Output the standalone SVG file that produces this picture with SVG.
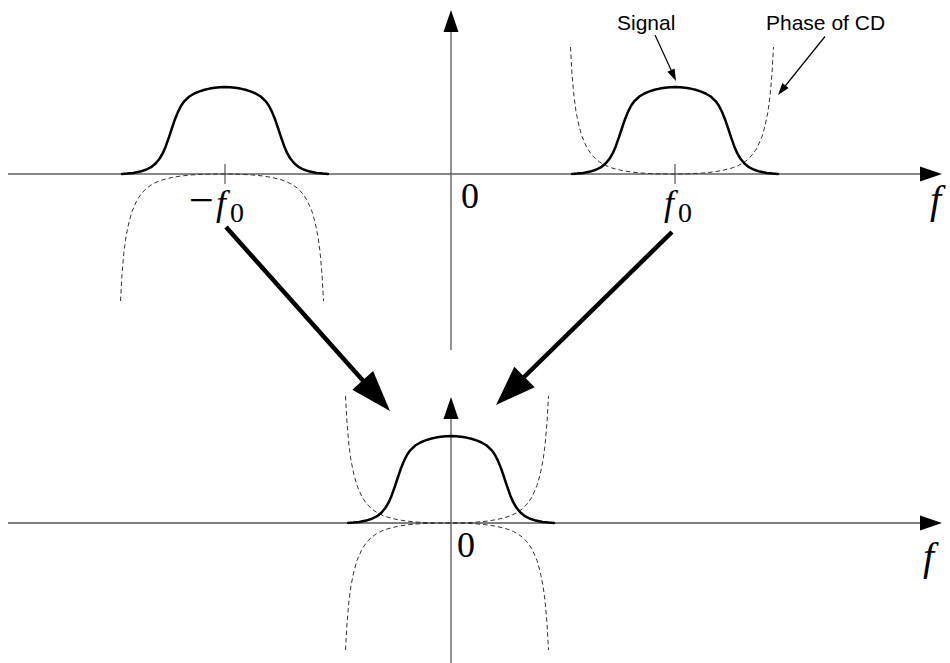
<svg xmlns="http://www.w3.org/2000/svg" xmlns:xlink="http://www.w3.org/1999/xlink" width="950" height="663" viewBox="0 0 950 663">
<style>
.axis{stroke:#111;stroke-width:1.2;fill:none}
.vaxis{stroke:#555;stroke-width:1.3;fill:none}
.tick{stroke:#555;stroke-width:1.2}
.head{fill:#000}
.bell{fill:none;stroke:#000;stroke-width:2.5;stroke-linejoin:round;stroke-linecap:round}
.phase{fill:none;stroke:#333;stroke-width:1;stroke-dasharray:4.5 3}
.big{stroke:#000;stroke-width:4.5;fill:none}
.small{stroke:#000;stroke-width:1.2;fill:none}
.math{font-family:"Liberation Serif","Times New Roman",serif;fill:#000}
.lbl{font-family:"Liberation Sans",Arial,sans-serif;font-size:21px;fill:#000}
</style>
<defs>
<path id="bellShape" d="M-103,0 L-97.9,-0.4 L-91.8,-1.1 L-84.7,-2.4 L-78.5,-4.5 L-73.4,-7.2 L-69.4,-10.5 L-65.3,-15.5 L-62.2,-20.8 L-59.2,-27.8 L-56.1,-36.6 L-53,-46 L-50,-54.8 L-46.9,-62.4 L-43.9,-68.3 L-40.8,-72.7 L-35.7,-77.5 L-30.6,-80.5 L-25.5,-82.6 L-20.4,-84.2 L-15.3,-85.4 L-10.2,-86.3 L-5.1,-86.8 L0,-87 L5.1,-86.8 L10.2,-86.3 L15.3,-85.4 L20.4,-84.2 L25.5,-82.6 L30.6,-80.5 L35.7,-77.5 L40.8,-72.7 L43.9,-68.3 L46.9,-62.4 L50,-54.8 L53,-46 L56.1,-36.6 L59.2,-27.8 L62.2,-20.8 L65.3,-15.5 L69.4,-10.5 L73.4,-7.2 L78.5,-4.5 L84.7,-2.4 L91.8,-1.1 L97.9,-0.4 L103,0"/>
<path id="phaseShape" d="M-101.5,-127 L-100,-100.1 L-98,-77.5 L-96,-62.5 L-93,-48 L-90,-37.5 L-85,-26 L-80,-18.8 L-75,-13.9 L-70,-10.4 L-65,-7.9 L-60,-6 L-50,-3.45 L-40,-1.89 L-30,-0.92 L-20,-0.36 L-10,-0.08 L0,0 L10,-0.08 L20,-0.36 L30,-0.92 L40,-1.89 L50,-3.45 L60,-6 L65,-7.9 L70,-10.4 L75,-13.9 L80,-18.8 L85,-26 L90,-37.5 L93,-48 L96,-62.5 L98,-77.5 L100,-100.1 L101.5,-127"/>
</defs>

<g id="axes">
  <line class="axis" x1="8" y1="174" x2="922" y2="174"/>
  <polygon class="head" points="920,166.5 942,174 920,181.5"/>
  <line class="vaxis" x1="451" y1="30" x2="451" y2="350"/>
  <polygon class="head" points="443.5,32 451,10 458.5,32"/>
  <line class="tick" x1="225" y1="164" x2="225" y2="184"/>
  <line class="tick" x1="675" y1="164" x2="675" y2="184"/>
  <line class="vaxis" x1="8" y1="523" x2="922" y2="523"/>
  <polygon class="head" points="920,515.5 942,523 920,530.5"/>
  <line class="vaxis" x1="451" y1="417" x2="451" y2="663"/>
  <polygon class="head" points="443.5,419 451,397 458.5,419"/>
</g>

<g id="spectrum-neg-f0">
  <use xlink:href="#phaseShape" class="phase" transform="translate(222,174) scale(1,-1)"/>
  <use xlink:href="#bellShape" class="bell" transform="translate(225,174)"/>
  <text class="math" x="189" y="215" font-size="44">−<tspan font-style="italic" font-size="36" x="216">f</tspan><tspan x="230" y="221.5" font-size="28">0</tspan></text>
</g>

<g id="spectrum-pos-f0">
  <use xlink:href="#phaseShape" class="phase" transform="translate(672,174)"/>
  <use xlink:href="#bellShape" class="bell" transform="translate(675,174)"/>
  <text class="math" x="664" y="215" font-size="36" font-style="italic">f<tspan font-style="normal" x="678" y="221.5" font-size="28">0</tspan></text>
  <text class="lbl" x="617" y="30">Signal</text>
  <text class="lbl" x="766" y="30">Phase of CD</text>
</g>

<g id="spectrum-baseband">
  <use xlink:href="#phaseShape" class="phase" transform="translate(447,523)"/>
  <use xlink:href="#phaseShape" class="phase" transform="translate(447,523) scale(1,-1)"/>
  <use xlink:href="#bellShape" class="bell" transform="translate(451,523)"/>
  <text class="math" x="457" y="557" font-size="36">0</text>
</g>

<g id="axis-labels">
  <text class="math" x="461" y="208" font-size="36">0</text>
  <text class="math" x="930" y="213" font-size="40" font-style="italic">f</text>
  <text class="math" x="923" y="570" font-size="40" font-style="italic">f</text>
</g>

<g id="connectors">
  <line class="big" x1="226" y1="227" x2="366" y2="384"/>
  <polygon class="head" points="390,411 352.3,389.7 373.1,371.1"/>
  <line class="big" x1="672" y1="232" x2="521" y2="380"/>
  <polygon class="head" points="496,405 534.7,387.3 514.3,366.7"/>
  <line class="small" x1="655" y1="35" x2="672" y2="72"/>
  <polygon class="head" points="676,81 667.4,71.8 674.6,68.4"/>
  <line class="small" x1="825" y1="36.5" x2="784" y2="87.5"/>
  <polygon class="head" points="778,95 788.6,88.1 782.4,83.1"/>
</g>
</svg>
